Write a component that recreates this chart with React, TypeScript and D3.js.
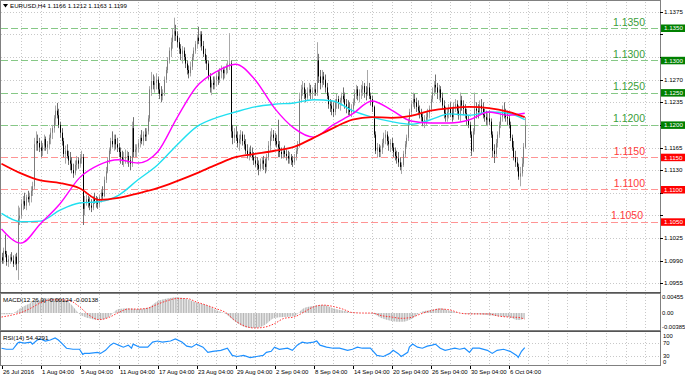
import React from 'react';
import * as d3 from 'd3';

const W = 685;
const H = 377;

// ---------- price data (H4 bars, 26 Jul 04:00 .. 7 Oct 20:00) ----------
const firstOpen = 1.0995;
const highs = [
  1.1002,1.1010,1.1030,1.1005,1.0998,
  1.1000,1.1003,1.0998,1.1000,1.1002,1.1075,
  1.1072,1.1085,1.1090,1.1095,1.1092,1.1098,
  1.1095,1.1105,1.1112,1.1180,1.1190,1.1185,
  1.1180,1.1175,1.1172,1.1185,1.1182,1.1175,
  1.1185,1.1195,1.1200,1.1215,1.1230,1.1234,
  1.1225,1.1205,1.1195,1.1180,1.1168,1.1170,
  1.1160,1.1158,1.1150,1.1140,1.1145,1.1152,
  1.1150,1.1155,1.1160,1.1155,1.1090,1.1092,
  1.1090,1.1088,1.1085,1.1090,1.1095,1.1090,
  1.1088,1.1092,1.1100,1.1105,1.1120,1.1135,
  1.1150,1.1165,1.1180,1.1190,1.1185,1.1185,
  1.1180,1.1172,1.1165,1.1160,1.1158,1.1162,
  1.1160,1.1158,1.1152,1.1205,1.1212,1.1170,
  1.1170,1.1178,1.1185,1.1192,1.1190,1.1195,
  1.1195,1.1215,1.1260,1.1282,1.1278,1.1275,
  1.1280,1.1275,1.1265,1.1260,1.1255,1.1275,
  1.1290,1.1305,1.1320,1.1335,1.1350,1.1366,
  1.1355,1.1345,1.1335,1.1325,1.1322,1.1320,
  1.1310,1.1300,1.1292,1.1298,1.1310,1.1320,
  1.1330,1.1340,1.1352,1.1345,1.1345,1.1330,
  1.1318,1.1308,1.1300,1.1280,1.1270,1.1275,
  1.1275,1.1280,1.1285,1.1288,1.1292,1.1290,
  1.1290,1.1295,1.1300,1.1342,1.1300,1.1200,
  1.1195,1.1198,1.1190,1.1185,1.1192,1.1190,
  1.1185,1.1178,1.1170,1.1165,1.1168,1.1165,
  1.1158,1.1152,1.1150,1.1145,1.1148,1.1150,
  1.1152,1.1148,1.1155,1.1175,1.1190,1.1195,
  1.1192,1.1188,1.1185,1.1208,1.1175,1.1165,
  1.1165,1.1168,1.1162,1.1160,1.1158,1.1155,
  1.1152,1.1155,1.1165,1.1175,1.1250,1.1262,
  1.1268,1.1265,1.1255,1.1258,1.1265,1.1262,
  1.1258,1.1262,1.1265,1.1328,1.1310,1.1285,
  1.1285,1.1282,1.1278,1.1265,1.1250,1.1240,
  1.1238,1.1235,1.1240,1.1248,1.1245,1.1242,
  1.1250,1.1258,1.1250,1.1240,1.1238,1.1235,
  1.1232,1.1240,1.1255,1.1262,1.1260,1.1255,
  1.1262,1.1268,1.1265,1.1260,1.1285,1.1265,
  1.1250,1.1245,1.1230,1.1190,1.1172,1.1170,
  1.1168,1.1178,1.1188,1.1192,1.1190,1.1182,
  1.1178,1.1180,1.1172,1.1165,1.1160,1.1158,
  1.1150,1.1142,1.1160,1.1175,1.1185,1.1210,
  1.1225,1.1238,1.1250,1.1248,1.1242,1.1238,
  1.1230,1.1225,1.1218,1.1215,1.1220,1.1225,
  1.1230,1.1245,1.1258,1.1268,1.1278,1.1265,
  1.1262,1.1260,1.1250,1.1238,1.1228,1.1225,
  1.1232,1.1235,1.1228,1.1235,1.1240,1.1238,
  1.1230,1.1250,1.1245,1.1238,1.1232,1.1225,
  1.1215,1.1205,1.1190,1.1195,1.1250,1.1235,
  1.1232,1.1238,1.1240,1.1235,1.1225,1.1222,
  1.1218,1.1222,1.1210,1.1190,1.1170,1.1178,
  1.1190,1.1205,1.1218,1.1230,1.1235,1.1225,
  1.1222,1.1215,1.1205,1.1185,1.1175,1.1160,
  1.1150,1.1140,1.1135,1.1150,1.1172,1.1212,
];
const lows = [
  1.0985,1.0985,1.0995,1.0982,1.0980,
  1.0985,1.0988,1.0980,1.0983,1.0975,1.0960,
  1.1045,1.1055,1.1068,1.1070,1.1068,1.1080,
  1.1075,1.1080,1.1090,1.1100,1.1160,1.1160,
  1.1158,1.1150,1.1152,1.1160,1.1160,1.1155,
  1.1162,1.1170,1.1178,1.1188,1.1200,1.1210,
  1.1195,1.1180,1.1168,1.1150,1.1140,1.1148,
  1.1138,1.1130,1.1125,1.1118,1.1122,1.1130,
  1.1132,1.1135,1.1140,1.1045,1.1060,1.1075,
  1.1072,1.1068,1.1065,1.1068,1.1078,1.1072,
  1.1070,1.1072,1.1080,1.1085,1.1088,1.1110,
  1.1125,1.1140,1.1155,1.1165,1.1160,1.1162,
  1.1158,1.1150,1.1140,1.1138,1.1135,1.1140,
  1.1140,1.1135,1.1130,1.1135,1.1150,1.1150,
  1.1150,1.1158,1.1165,1.1170,1.1168,1.1175,
  1.1175,1.1185,1.1205,1.1245,1.1255,1.1250,
  1.1255,1.1248,1.1240,1.1235,1.1238,1.1245,
  1.1265,1.1280,1.1295,1.1305,1.1318,1.1330,
  1.1330,1.1320,1.1310,1.1300,1.1295,1.1300,
  1.1288,1.1278,1.1272,1.1275,1.1285,1.1300,
  1.1310,1.1318,1.1325,1.1320,1.1315,1.1305,
  1.1295,1.1285,1.1270,1.1250,1.1246,1.1255,
  1.1255,1.1260,1.1262,1.1265,1.1272,1.1270,
  1.1272,1.1278,1.1280,1.1285,1.1180,1.1170,
  1.1172,1.1175,1.1165,1.1160,1.1170,1.1168,
  1.1162,1.1155,1.1148,1.1145,1.1150,1.1145,
  1.1138,1.1135,1.1130,1.1122,1.1128,1.1132,
  1.1130,1.1125,1.1128,1.1145,1.1160,1.1175,
  1.1175,1.1168,1.1165,1.1150,1.1150,1.1148,
  1.1148,1.1150,1.1145,1.1140,1.1140,1.1138,
  1.1135,1.1138,1.1145,1.1155,1.1165,1.1235,
  1.1245,1.1240,1.1235,1.1238,1.1245,1.1240,
  1.1240,1.1245,1.1245,1.1245,1.1265,1.1255,
  1.1258,1.1262,1.1250,1.1240,1.1225,1.1220,
  1.1215,1.1212,1.1215,1.1225,1.1225,1.1222,
  1.1230,1.1235,1.1225,1.1218,1.1215,1.1215,
  1.1212,1.1218,1.1230,1.1240,1.1238,1.1235,
  1.1240,1.1245,1.1242,1.1238,1.1245,1.1240,
  1.1230,1.1220,1.1180,1.1155,1.1150,1.1150,
  1.1150,1.1155,1.1165,1.1170,1.1168,1.1160,
  1.1158,1.1160,1.1150,1.1145,1.1140,1.1135,
  1.1130,1.1124,1.1135,1.1150,1.1165,1.1175,
  1.1200,1.1215,1.1228,1.1225,1.1220,1.1215,
  1.1210,1.1205,1.1198,1.1195,1.1200,1.1205,
  1.1210,1.1220,1.1235,1.1245,1.1250,1.1240,
  1.1238,1.1235,1.1225,1.1210,1.1205,1.1205,
  1.1210,1.1212,1.1205,1.1208,1.1220,1.1215,
  1.1208,1.1205,1.1222,1.1215,1.1210,1.1200,
  1.1195,1.1180,1.1152,1.1158,1.1185,1.1210,
  1.1210,1.1215,1.1218,1.1210,1.1205,1.1200,
  1.1198,1.1200,1.1180,1.1150,1.1141,1.1150,
  1.1165,1.1180,1.1195,1.1205,1.1210,1.1205,
  1.1200,1.1195,1.1175,1.1160,1.1145,1.1135,
  1.1128,1.1115,1.1105,1.1120,1.1135,1.1163,
];
const closes = [
  1.0990,1.1005,1.1000,1.0988,1.0992,
  1.0995,1.0990,1.0985,1.0996,1.0985,1.1055,
  1.1060,1.1078,1.1082,1.1075,1.1088,1.1085,
  1.1090,1.1098,1.1105,1.1170,1.1175,1.1172,
  1.1165,1.1160,1.1168,1.1178,1.1165,1.1170,
  1.1180,1.1188,1.1195,1.1210,1.1222,1.1215,
  1.1200,1.1188,1.1175,1.1155,1.1160,1.1152,
  1.1145,1.1140,1.1130,1.1125,1.1138,1.1145,
  1.1140,1.1148,1.1150,1.1070,1.1080,1.1085,
  1.1080,1.1075,1.1072,1.1085,1.1082,1.1080,
  1.1078,1.1088,1.1095,1.1090,1.1115,1.1128,
  1.1145,1.1160,1.1175,1.1170,1.1178,1.1170,
  1.1165,1.1158,1.1150,1.1145,1.1148,1.1150,
  1.1152,1.1145,1.1140,1.1195,1.1158,1.1162,
  1.1165,1.1172,1.1180,1.1175,1.1185,1.1182,
  1.1190,1.1210,1.1255,1.1268,1.1262,1.1265,
  1.1270,1.1255,1.1248,1.1245,1.1250,1.1270,
  1.1285,1.1300,1.1315,1.1328,1.1340,1.1345,
  1.1338,1.1328,1.1318,1.1310,1.1315,1.1305,
  1.1295,1.1285,1.1280,1.1290,1.1305,1.1315,
  1.1325,1.1335,1.1330,1.1340,1.1322,1.1310,
  1.1300,1.1295,1.1275,1.1258,1.1265,1.1262,
  1.1270,1.1275,1.1270,1.1282,1.1285,1.1280,
  1.1285,1.1290,1.1292,1.1295,1.1190,1.1180,
  1.1185,1.1180,1.1172,1.1178,1.1185,1.1175,
  1.1170,1.1160,1.1155,1.1158,1.1155,1.1150,
  1.1145,1.1140,1.1138,1.1132,1.1140,1.1145,
  1.1140,1.1135,1.1150,1.1168,1.1182,1.1185,
  1.1180,1.1175,1.1170,1.1165,1.1158,1.1155,
  1.1160,1.1155,1.1152,1.1148,1.1150,1.1145,
  1.1142,1.1150,1.1160,1.1170,1.1240,1.1255,
  1.1258,1.1248,1.1242,1.1250,1.1255,1.1250,
  1.1252,1.1255,1.1250,1.1300,1.1275,1.1265,
  1.1275,1.1270,1.1258,1.1245,1.1232,1.1230,
  1.1225,1.1220,1.1235,1.1240,1.1235,1.1238,
  1.1245,1.1240,1.1232,1.1228,1.1225,1.1220,
  1.1225,1.1235,1.1248,1.1255,1.1245,1.1250,
  1.1255,1.1260,1.1250,1.1248,1.1258,1.1245,
  1.1240,1.1228,1.1185,1.1160,1.1165,1.1158,
  1.1162,1.1172,1.1180,1.1185,1.1175,1.1170,
  1.1172,1.1165,1.1158,1.1152,1.1148,1.1142,
  1.1135,1.1138,1.1155,1.1170,1.1180,1.1205,
  1.1220,1.1232,1.1240,1.1235,1.1228,1.1222,
  1.1218,1.1212,1.1205,1.1208,1.1212,1.1218,
  1.1225,1.1240,1.1250,1.1262,1.1258,1.1250,
  1.1255,1.1242,1.1230,1.1218,1.1212,1.1220,
  1.1225,1.1218,1.1212,1.1228,1.1232,1.1222,
  1.1215,1.1238,1.1230,1.1225,1.1218,1.1208,
  1.1200,1.1185,1.1160,1.1190,1.1225,1.1222,
  1.1220,1.1230,1.1225,1.1215,1.1212,1.1208,
  1.1210,1.1205,1.1185,1.1160,1.1155,1.1172,
  1.1185,1.1200,1.1212,1.1220,1.1215,1.1212,
  1.1210,1.1200,1.1180,1.1165,1.1150,1.1142,
  1.1135,1.1120,1.1125,1.1140,1.1166,1.1199,
];

// ---------- moving averages, sampled every 12 bars ----------
const maBars = [0,12,24,36,48,60,72,84,96,108,120,132,144,156,168,180,192,204,216,228,240,252,264,276,288,300,312,322];
const maRed = [1.1140,1.1125,1.1114,1.1110,1.1102,1.1084,1.1087,1.1094,1.1102,1.1113,1.1125,1.1138,1.1150,1.1155,1.1160,1.1166,1.1180,1.1195,1.1208,1.1212,1.1211,1.1214,1.1222,1.1226,1.1228,1.1226,1.1220,1.1212];
const maCyan = [1.1063,1.1050,1.1051,1.1068,1.1079,1.1081,1.1091,1.1115,1.1138,1.1169,1.1197,1.1211,1.1220,1.1228,1.1232,1.1234,1.1239,1.1237,1.1222,1.1212,1.1205,1.1201,1.1208,1.1217,1.1215,1.1220,1.1218,1.1208];
const maMagenta = [1.1039,1.1017,1.1047,1.1078,1.1118,1.1138,1.1146,1.1141,1.1158,1.1211,1.1259,1.1282,1.1294,1.1270,1.1226,1.1195,1.1181,1.1200,1.1217,1.1237,1.1223,1.1206,1.1203,1.1203,1.1208,1.1220,1.1215,1.1218];

// ---------- MACD(12,26,9), sampled every 6 bars ----------
const macdBars = [0,6,12,18,24,30,36,42,48,54,60,66,72,78,84,90,96,102,108,114,120,126,132,138,144,150,156,162,168,174,180,186,192,198,204,210,216,222,228,234,240,246,252,258,264,270,276,282,288,294,300,306,312,318,322];
const macdMain = [-0.0003,-0.0002,0.0012,0.0023,0.0030,0.0034,0.0032,0.0023,-0.0002,-0.0012,-0.0016,-0.0009,0.0009,0.0011,0.0009,0.0012,0.0027,0.0033,0.0036,0.0032,0.0024,0.0018,0.0007,-0.0002,-0.0020,-0.0032,-0.0034,-0.0027,-0.0011,-0.0009,-0.0007,0.0011,0.0016,0.0018,0.0011,0.0006,0.0001,0.0000,-0.0001,-0.0012,-0.0018,-0.0020,-0.0014,0.0002,0.0007,0.0011,0.0005,0.0000,-0.0002,-0.0003,-0.0005,-0.0007,-0.0009,-0.0016,-0.00124];
const macdSignal = [-0.0009,-0.0005,0.0001,0.0011,0.0023,0.0030,0.0030,0.0028,0.0014,-0.0005,-0.0015,-0.0010,0.0001,0.0009,0.0009,0.0011,0.0020,0.0028,0.0033,0.0033,0.0025,0.0018,0.0010,0.0001,-0.0018,-0.0030,-0.0034,-0.0032,-0.0024,-0.0012,-0.0009,0.0002,0.0014,0.0018,0.0015,0.0009,0.0001,0.0000,0.0000,-0.0006,-0.0009,-0.0012,-0.0010,-0.0002,0.0005,0.0009,0.0007,0.0000,-0.0002,-0.0002,-0.0002,-0.0007,-0.0009,-0.0010,-0.00138];

// ---------- RSI(14) ----------
const rsiBars = [0,3,7,10,11,14,18,19,22,24,27,30,33,35,37,40,44,48,50,51,54,59,61,64,67,69,72,75,78,80,81,85,90,93,96,99,104,107,111,114,117,120,124,127,130,135,139,142,145,149,153,157,161,163,166,168,171,176,179,182,185,188,192,194,196,200,204,208,213,216,219,222,227,231,235,239,241,244,246,250,251,253,256,259,262,265,267,270,273,276,279,282,285,288,290,294,299,302,305,309,313,317,318,320,322];
const rsiValues = [52.4,49.2,49.2,68.3,71.4,68.3,71.4,65.1,77.8,81.0,74.6,77.8,84.1,77.8,68.3,52.4,49.2,49.2,33.3,36.5,36.5,39.7,36.5,46.0,61.9,68.3,61.9,55.6,61.9,52.4,65.1,55.6,55.6,71.4,74.6,71.4,74.6,81.0,71.4,58.7,55.6,65.1,55.6,39.7,42.9,46.0,52.4,30.2,27.0,30.2,23.8,27.0,30.2,39.7,42.9,55.6,49.2,52.4,46.0,61.9,71.4,68.3,71.4,74.6,61.9,55.6,52.4,52.4,46.0,49.2,55.6,52.4,52.4,30.2,27.0,36.5,46.0,36.5,27.0,39.7,55.6,65.1,55.6,52.4,58.7,61.9,65.1,52.4,46.0,49.2,52.4,49.2,52.4,39.7,52.4,52.4,46.0,36.5,46.0,49.2,42.9,30.2,23.8,42.9,54.4];

// ---------- levels, ticks, labels ----------
const greenLevels = [1.1350, 1.1300, 1.1250, 1.1200];
const redLevels = [1.1150, 1.1100, 1.1050];
const priceTicks = [1.1375,1.1340,1.1305,1.1270,1.1235,1.1200,1.1165,1.1130,1.1095,1.1060,1.1025,1.0990,1.0955];
const dateLabels = ['26 Jul 2016','1 Aug 04:00','5 Aug 04:00','11 Aug 04:00','17 Aug 04:00','23 Aug 04:00','29 Aug 04:00','2 Sep 04:00','8 Sep 04:00','14 Sep 04:00','20 Sep 04:00','26 Sep 04:00','30 Sep 04:00','6 Oct 04:00'];
const macdTicks = [0.00455, 0, -0.00385];
const macdTickLabels = ['0.00455', '0.00', '-0.00385'];
const rsiTicks = [100, 70, 30, 0];
const header = 'EURUSD,H4  1.1166 1.1212 1.1163 1.1199';
const macdTitle = 'MACD(12,26,9) -0.00124 -0.00138';
const rsiTitle = 'RSI(14) 54.4291';

const FONT = '"Liberation Sans", Arial, sans-serif';

export default function App() {
  const xBar = d3.scaleLinear().domain([0, 312]).range([1.5, 508.5]);
  const yP = d3.scaleLinear().domain([1.1050, 1.1350]).range([221.8, 28]);
  const yM = d3.scaleLinear().domain([-0.00385, 0.00455]).range([330, 293]);
  const yR = d3.scaleLinear().domain([0, 100]).range([365.25, 332.75]);

  const AX = 660; // right axis line
  const gridBars = d3.range(12, 420, 12).filter((b) => xBar(b) < AX - 2);
  const px = (v: number) => Math.round(v) + 0.5;
  const allLevels = [...greenLevels, ...redLevels];
  // tick labels that sit right under a level tag are hidden by that tag
  const visibleTicks = priceTicks.filter((t) => !allLevels.some((l) => Math.abs(yP(l) - yP(t)) < 7));

  const maLine = (vals: number[]) =>
    d3.line<number>().x((_, i) => xBar(maBars[i])).y((v) => yP(v)).curve(d3.curveMonotoneX)(vals) || '';

  const histArea =
    d3.area<number>().x((_, i) => xBar(macdBars[i])).y0(yM(0)).y1((v) => yM(v)).curve(d3.curveMonotoneX)(macdMain) || '';
  const sigLine =
    d3.line<number>().x((_, i) => xBar(macdBars[i])).y((v) => yM(v)).curve(d3.curveMonotoneX)(macdSignal) || '';
  const rsiLine =
    d3.line<number>().x((_, i) => xBar(rsiBars[i])).y((v) => yR(v)).curve(d3.curveLinear)(rsiValues) || '';

  const candles = closes.map((c, i) => {
    const o = i === 0 ? firstOpen : closes[i - 1];
    const hi = Math.max(highs[i], o, c);
    const lo = Math.min(lows[i], o, c);
    const bull = c >= o;
    const x = px(xBar(i));
    const yTop = yP(Math.max(o, c));
    const yBot = yP(Math.min(o, c));
    return (
      <g key={i}>
        <line x1={x} x2={x} y1={yP(hi)} y2={yP(lo)} stroke={bull ? '#a8a8a8' : '#707070'} strokeWidth={1} />
        <rect x={x - 0.5} y={yTop} width={1} height={Math.max(1, yBot - yTop)} fill={bull ? '#7c7c7c' : '#000'} />
      </g>
    );
  });

  return (
    <div style={{ position: 'fixed', left: 0, top: 0, width: W, height: H, background: '#fff' }}>
      <svg width={W} height={H} style={{ display: 'block', fontFamily: FONT }}>
        <defs>
          <clipPath id="mainClip">
            <rect x={1} y={1} width={AX - 1} height={291} />
          </clipPath>
          <clipPath id="macdClip">
            <rect x={1} y={294} width={AX - 1} height={36} />
          </clipPath>
          <clipPath id="rsiClip">
            <rect x={1} y={333} width={AX - 1} height={32} />
          </clipPath>
          <pattern id="histPat" patternUnits="userSpaceOnUse" x={1} y={0} width={1.625} height={4}>
            <rect x={0} y={0} width={1} height={4} fill="#b4b4b4" />
          </pattern>
        </defs>
        <rect x={0} y={0} width={W} height={H} fill="#fff" />

        {/* grids */}
        <g stroke="#c8c8c8" strokeWidth={1} strokeDasharray="1,2">
          {gridBars.map((b) => (
            <g key={b}>
              <line x1={px(xBar(b))} x2={px(xBar(b))} y1={2} y2={292} />
              <line x1={px(xBar(b))} x2={px(xBar(b))} y1={294} y2={330} />
              <line x1={px(xBar(b))} x2={px(xBar(b))} y1={333} y2={365} />
            </g>
          ))}
          {priceTicks.map((t) => (
            <line key={t} x1={1} x2={AX} y1={px(yP(t))} y2={px(yP(t))} />
          ))}
          {[70, 30].map((t) => (
            <line key={t} x1={1} x2={AX} y1={px(yR(t))} y2={px(yR(t))} />
          ))}
        </g>

        {/* horizontal level lines */}
        <g strokeWidth={1} strokeDasharray="7,3">
          {greenLevels.map((l) => (
            <line key={l} x1={1} x2={AX} y1={px(yP(l))} y2={px(yP(l))} stroke="#86c886" />
          ))}
          {redLevels.map((l) => (
            <line key={l} x1={1} x2={AX} y1={px(yP(l))} y2={px(yP(l))} stroke="#ff9494" />
          ))}
        </g>

        {/* candles and MAs */}
        <g clipPath="url(#mainClip)">
          {candles}
          <path d={maLine(maCyan)} fill="none" stroke="#20e0f0" strokeWidth={1.4} />
          <path d={maLine(maMagenta)} fill="none" stroke="#ff00ff" strokeWidth={1.4} />
          <path d={maLine(maRed)} fill="none" stroke="#ff0000" strokeWidth={1.8} />
        </g>

        {/* level labels */}
        <g fontSize={10.5}>
          {greenLevels.map((l) => (
            <text key={l} x={645} y={yP(l) - 2.5} textAnchor="end" fill="#3a9e3a">
              {l.toFixed(4)}
            </text>
          ))}
          {redLevels.map((l, i) => (
            <text key={l} x={i === 2 ? 643 : 645} y={yP(l) - 2.5} textAnchor="end" fill="#ff3c3c">
              {l.toFixed(4)}
            </text>
          ))}
        </g>

        {/* MACD */}
        <g clipPath="url(#macdClip)">
          <path d={histArea} fill="url(#histPat)" />
          <path d={sigLine} fill="none" stroke="#ff3030" strokeWidth={1} strokeDasharray="1.5,1.5" />
        </g>

        {/* RSI */}
        <g clipPath="url(#rsiClip)">
          <path d={rsiLine} fill="none" stroke="#1e90ff" strokeWidth={1.2} />
        </g>

        {/* frames */}
        <g fill="none" stroke="#808080" strokeWidth={1}>
          <rect x={0.5} y={0.5} width={AX} height={292} />
          <rect x={0.5} y={293.5} width={AX} height={37} />
          <rect x={0.5} y={331.5} width={AX} height={34} />
        </g>
        <line x1={0} x2={AX + 1} y1={292.5} y2={292.5} stroke="#555" />
        <line x1={0} x2={AX + 1} y1={331.5} y2={331.5} stroke="#555" />

        {/* right axis: price */}
        <g fontSize={6.2} fill="#000">
          {priceTicks.map((t) => (
            <line key={t} x1={AX} x2={AX + 3} y1={px(yP(t))} y2={px(yP(t))} stroke="#000" />
          ))}
          {visibleTicks.map((t) => (
            <text key={t} x={AX + 4} y={yP(t) + 2.2}>{t.toFixed(4)}</text>
          ))}
        </g>
        {/* level tags */}
        <g fontSize={6.2}>
          {greenLevels.map((l) => (
            <g key={l}>
              <rect x={AX + 1} y={yP(l) - 3.5} width={W - AX - 1} height={7.5} fill="#008000" />
              <text x={AX + 4} y={yP(l) + 2.3} fill="#fff">{l.toFixed(4)}</text>
            </g>
          ))}
          {redLevels.map((l) => (
            <g key={l}>
              <rect x={AX + 1} y={yP(l) - 3.5} width={W - AX - 1} height={7.5} fill="#ff0000" />
              <text x={AX + 4} y={yP(l) + 2.3} fill="#fff">{l.toFixed(4)}</text>
            </g>
          ))}
        </g>

        {/* right axis: MACD and RSI */}
        <g fontSize={5.9} fill="#000">
          {macdTicks.map((t, i) => (
            <text key={t} x={AX + 2} y={yM(t) + (i === 0 ? 6 : i === 1 ? 2.2 : -1.5)}>
              {macdTickLabels[i]}
            </text>
          ))}
          {rsiTicks.map((t, i) => (
            <text key={t} x={AX + 3} y={yR(t) + (i === 0 ? 5.5 : i === 3 ? -1 : 2.2)}>
              {String(t)}
            </text>
          ))}
        </g>

        {/* date axis */}
        <g fontSize={6} fill="#000">
          {dateLabels.map((d, i) => (
            <g key={d}>
              <line x1={px(xBar(i * 24))} x2={px(xBar(i * 24))} y1={366} y2={369} stroke="#000" />
              <text x={xBar(i * 24) + 1.5} y={373.5}>{d}</text>
            </g>
          ))}
        </g>

        {/* titles */}
        <path d="M3,4 L8,4 L5.5,7.5 Z" fill="#000" />
        <text x={10} y={8} fontSize={6.2} fill="#000">{header}</text>
        <text x={3} y={301.5} fontSize={6.2} fill="#000">{macdTitle}</text>
        <text x={3} y={339.5} fontSize={6.2} fill="#000">{rsiTitle}</text>
      </svg>
    </div>
  );
}
